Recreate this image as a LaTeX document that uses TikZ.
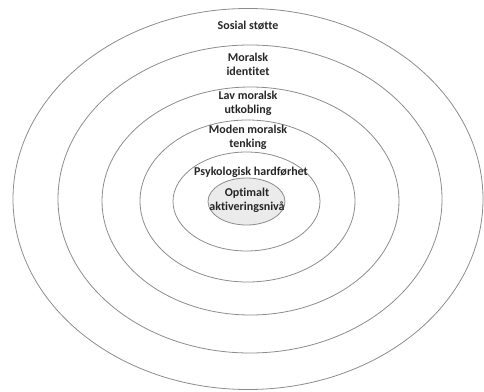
\documentclass[tikz,border=0pt]{standalone}
\usepackage{fontspec}
\setmainfont{Carlito}[Ligatures=NoCommon]
\usepackage{tikz}
\tikzset{ring/.style={line width=0.8pt, color=black!45},
	lbl/.style={font=\bfseries\fontsize{12}{14}\selectfont, align=center, text=black!85}}

\begin{document}
\begin{tikzpicture}[x=1pt, y=-1pt]
			%%%%% START %%%%%
			\useasboundingbox (0, 0) rectangle (484, 391);
			
			\draw[ring] (248, 199) ellipse (235 and 190.5);
			\draw[ring] (250, 199) ellipse (192 and 154);
			\draw[ring] (250.5, 201) ellipse (148.5 and 114);
			\draw[ring] (247.5, 201) ellipse (107.5 and 81);
			\draw[ring] (246.5, 201.5) ellipse (73.5 and 49.5);
			\draw[ring, fill=black!8] (246.5, 201.5) ellipse (38.5 and 23.5);
			
			\node[lbl] (sosial) at (248, 26) {Sosial støtte};
			\node[lbl] (identitet) at (248, 64) {Moralsk\\identitet};
			\node[lbl] (utkobling) at (248, 103.5) {Lav moralsk\\utkobling};
			\node[lbl] (tenking) at (248, 137) {Moden moralsk\\tenking};
			\node[lbl] (hardfor) at (251, 172) {Psykologisk hardførhet};
			\node[lbl] (aktivering) at (247, 200) {Optimalt\\aktiveringsnivå};
			
			%%%%% END %%%%%
\end{tikzpicture}
\end{document}
